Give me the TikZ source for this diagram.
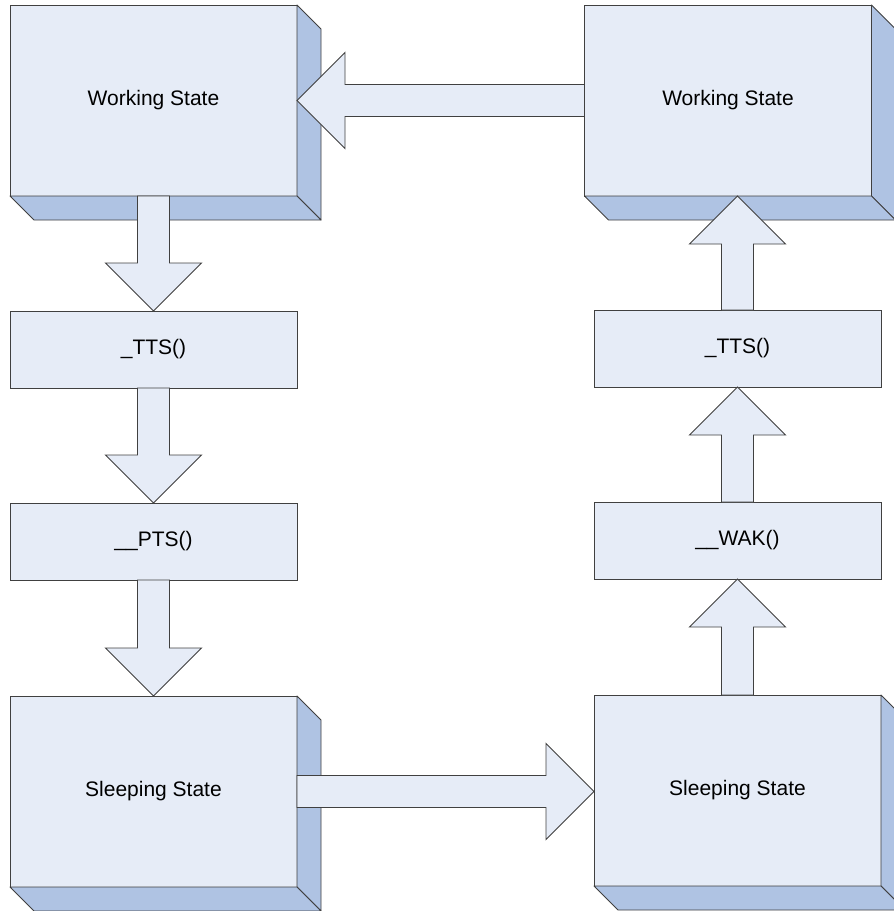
\documentclass[tikz,border=0pt]{standalone}
\usepackage{fontspec}
\setmainfont{Liberation Sans}
\usetikzlibrary{positioning,calc}

\definecolor{faceblue}{HTML}{E6ECF7}
\definecolor{sideblue}{HTML}{AFC3E3}
\definecolor{edgegray}{HTML}{404040}

% 3D depth of a state box
\newcommand{\boxdepth}[1]{%
  \draw[depthface] (#1.north east) -- ([shift={(24pt,-24pt)}]#1.north east)
    -- ([shift={(24pt,-24pt)}]#1.south east) -- (#1.south east) -- cycle;
  \draw[depthface] (#1.south west) -- ([shift={(24pt,-24pt)}]#1.south west)
    -- ([shift={(24pt,-24pt)}]#1.south east) -- (#1.south east) -- cycle;}

% block arrow from #1 to #2
\newcommand{\fatarrow}[2]{%
  \coordinate (hb) at ($(#2)!48pt!(#1)$);
  \draw[blockarrow] ($(#1)!16pt!90:(#2)$) -- ($(hb)!16pt!90:(#2)$)
    -- ($(hb)!48pt!90:(#2)$) -- (#2) -- ($(hb)!48pt!-90:(#2)$)
    -- ($(hb)!16pt!-90:(#2)$) -- ($(#1)!16pt!-90:(#2)$) -- cycle;}

\begin{document}
\begin{tikzpicture}[
node distance=115pt,
statebox/.style={draw=edgegray, fill=faceblue, line width=0.9pt, inner sep=0pt, outer sep=0pt,
  minimum width=287pt, minimum height=191pt, font=\fontsize{21}{25}\selectfont},
callbox/.style={statebox, minimum height=77pt},
depthface/.style={draw=edgegray, fill=sideblue, line width=0.9pt, line join=round},
blockarrow/.style={draw=edgegray, fill=faceblue, line width=0.9pt, line join=miter}
]
\useasboundingbox (0pt,0pt) rectangle (894pt,-911pt);
\clip (0pt,0pt) rectangle (894pt,-911pt);
\node[statebox] (work1) at (153.5pt,-100.5pt) {Working State};
\node[callbox, below=of work1] (tts1) {\_TTS()};
\node[callbox, below=of tts1] (pts) {\_\_PTS()};
\node[statebox, below=116pt of pts] (sleep1) {Sleeping State};
\node[statebox] (work2) at (728pt,-100.5pt) {Working State};
\node[statebox] (sleep2) at (737.5pt,-790.5pt) {Sleeping State};
\node[callbox, above=116pt of sleep2] (wak) {\_\_WAK()};
\node[callbox, above=of wak] (tts2) {\_TTS()};
\boxdepth{work1}
\boxdepth{work2}
\boxdepth{sleep1}
\boxdepth{sleep2}
\fatarrow{work2.west}{work1.east}
\fatarrow{work1.south}{tts1.north}
\fatarrow{tts1.south}{pts.north}
\fatarrow{pts.south}{sleep1.north}
\fatarrow{sleep1.east}{sleep1.east -| sleep2.west}
\fatarrow{sleep2.north}{wak.south}
\fatarrow{wak.north}{tts2.south}
\fatarrow{tts2.north}{tts2.north |- work2.south}
\end{tikzpicture}
\end{document}
